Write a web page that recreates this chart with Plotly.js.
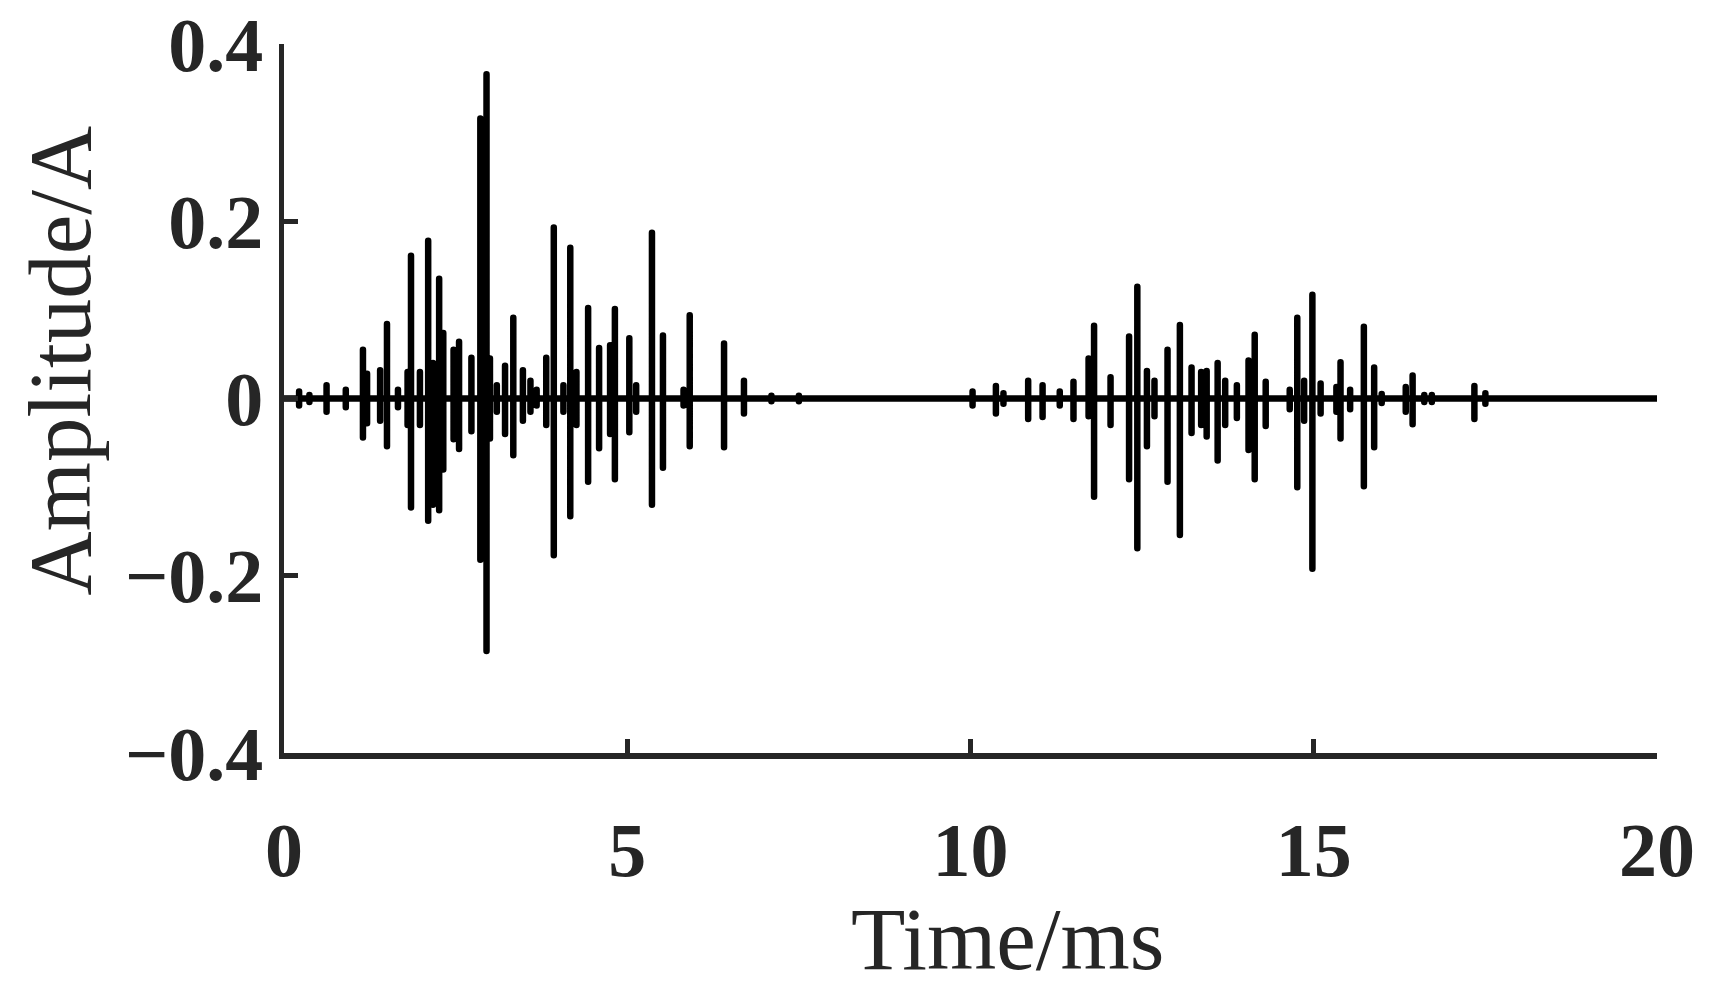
<!DOCTYPE html>
<html>
<head>
<meta charset="utf-8">
<script src="https://cdn.plot.ly/plotly-3.0.1.min.js"></script>
<style>
  html, body { margin: 0; padding: 0; background: #fff; }
  #div_output { width: 1724px; height: 999px; }
</style>
</head>
<body>
<div id="div_output"></div>
<script>
// spike times (ms) with their peak (up) and trough (down) amplitudes
var spike_t = [0.22, 0.37, 0.62, 0.90, 1.15, 1.21, 1.40, 1.50, 1.66, 1.80, 1.85, 1.98, 2.10, 2.17, 2.26, 2.32,
  2.47, 2.55, 2.73, 2.86, 2.95, 3.00, 3.10, 3.22, 3.34, 3.48, 3.59, 3.68, 3.82, 3.93, 4.07, 4.17,
  4.26, 4.43, 4.59, 4.75, 4.82, 5.03, 5.13, 5.36, 5.52, 5.82, 5.91, 6.41, 6.70, 7.10, 7.50,
  10.03, 10.37, 10.48, 10.84, 11.05, 11.30, 11.50, 11.72, 11.80, 12.04, 12.31, 12.43, 12.57, 12.68,
  12.87, 13.05, 13.22, 13.36, 13.44, 13.60, 13.71, 13.88, 14.05, 14.14, 14.30, 14.65, 14.76, 14.86,
  14.98, 15.10, 15.33, 15.39, 15.53, 15.73, 15.88, 15.99, 16.34, 16.44, 16.61, 16.72, 17.34, 17.50];
var spike_up = [0.008, 0.004, 0.015, 0.010, 0.055, 0.028, 0.032, 0.084, 0.010, 0.030, 0.161, 0.030, 0.178, 0.040, 0.135, 0.074,
  0.055, 0.064, 0.046, 0.316, 0.366, 0.045, 0.015, 0.037, 0.091, 0.032, 0.020, 0.010, 0.046, 0.193, 0.015, 0.170,
  0.030, 0.102, 0.057, 0.060, 0.101, 0.068, 0.015, 0.187, 0.071, 0.010, 0.094, 0.062, 0.020, 0.003, 0.003,
  0.008, 0.014, 0.006, 0.020, 0.015, 0.008, 0.019, 0.045, 0.082, 0.024, 0.070, 0.126, 0.031, 0.020,
  0.055, 0.083, 0.035, 0.030, 0.031, 0.040, 0.020, 0.015, 0.043, 0.072, 0.019, 0.010, 0.091, 0.020,
  0.117, 0.017, 0.013, 0.041, 0.010, 0.081, 0.035, 0.005, 0.013, 0.026, 0.004, 0.004, 0.014, 0.006];
var spike_down = [-0.008, -0.004, -0.015, -0.010, -0.044, -0.028, -0.025, -0.054, -0.010, -0.030, -0.123, -0.030, -0.138, -0.120, -0.126, -0.080,
  -0.046, -0.057, -0.037, -0.182, -0.285, -0.045, -0.015, -0.040, -0.064, -0.025, -0.015, -0.008, -0.030, -0.177, -0.015, -0.133,
  -0.030, -0.094, -0.056, -0.040, -0.091, -0.038, -0.015, -0.120, -0.078, -0.008, -0.054, -0.055, -0.017, -0.003, -0.003,
  -0.008, -0.017, -0.006, -0.023, -0.021, -0.008, -0.023, -0.020, -0.111, -0.030, -0.091, -0.169, -0.054, -0.020,
  -0.094, -0.154, -0.039, -0.030, -0.043, -0.070, -0.030, -0.022, -0.058, -0.091, -0.031, -0.012, -0.100, -0.025,
  -0.192, -0.017, -0.015, -0.045, -0.012, -0.099, -0.055, -0.005, -0.015, -0.029, -0.004, -0.004, -0.023, -0.006];

var x_ticks = [0, 5, 10, 15, 20];
var y_ticks = [-0.4, -0.2, 0, 0.2, 0.4];
var y_labels = ['\u22120.4', '\u22120.2', '0', '0.2', '0.4'];

function build_signal(t, up, down){
  var xs = [0], ys = [0]
  for(var i = 0; i < t.length; i++){
    xs.push(t[i], t[i], t[i], t[i])
    ys.push(0, up[i], down[i], 0)
  }
  xs.push(20)
  ys.push(0)
  return {'x':xs,'y':ys}
}

var sig = build_signal(spike_t, spike_up, spike_down)
var trace = {
  x: sig['x'],
  y: sig['y'],
  mode: 'lines',
  type: 'scatter',
  line: {
    color: '#000000',
    width: 6.5
  },
  hoverinfo: 'skip'
}

var axis_col = '#262626'
var tick_font = {family: 'Liberation Serif', size: 76, color: axis_col, weight: 'bold'}
var title_font = {family: 'Liberation Serif', size: 89, color: axis_col}

var layout = {
  width: 1724,
  height: 999,
  paper_bgcolor: '#ffffff',
  plot_bgcolor: '#ffffff',
  showlegend: false,
  margin: {l: 284, r: 67, t: 44, b: 246},
  xaxis: {
    range: [0, 20],
    tickvals: x_ticks,
    ticks: 'inside',
    ticklen: 14,
    tickwidth: 5,
    tickcolor: axis_col,
    showline: true,
    linecolor: axis_col,
    linewidth: 5.5,
    showgrid: false,
    zeroline: false,
    tickfont: tick_font,
    ticklabelstandoff: 26
  },
  yaxis: {
    range: [-0.4, 0.4],
    tickvals: y_ticks,
    ticktext: y_labels,
    ticks: 'inside',
    ticklen: 14,
    tickwidth: 5,
    tickcolor: axis_col,
    showline: true,
    linecolor: axis_col,
    linewidth: 5.5,
    showgrid: false,
    zeroline: false,
    tickfont: tick_font,
    ticklabelstandoff: 0
  },
  annotations: [
    {
      text: 'Time/ms',
      xref: 'paper', yref: 'paper',
      x: 0.527, y: -0.262,
      xanchor: 'center', yanchor: 'middle',
      showarrow: false,
      font: title_font
    },
    {
      text: 'Amplitude/A',
      xref: 'paper', yref: 'paper',
      x: -0.163, y: 0.554,
      xanchor: 'center', yanchor: 'middle',
      textangle: -90,
      showarrow: false,
      font: title_font
    }
  ]
}

Plotly.newPlot('div_output', [trace], layout, {displayModeBar: false, staticPlot: true}).then(function(gd){
  gd.querySelectorAll('.scatterlayer path.js-line').forEach(function(p){
    p.style.strokeLinejoin = 'round'
    p.style.strokeLinecap = 'round'
  })
});
</script>
</body>
</html>
